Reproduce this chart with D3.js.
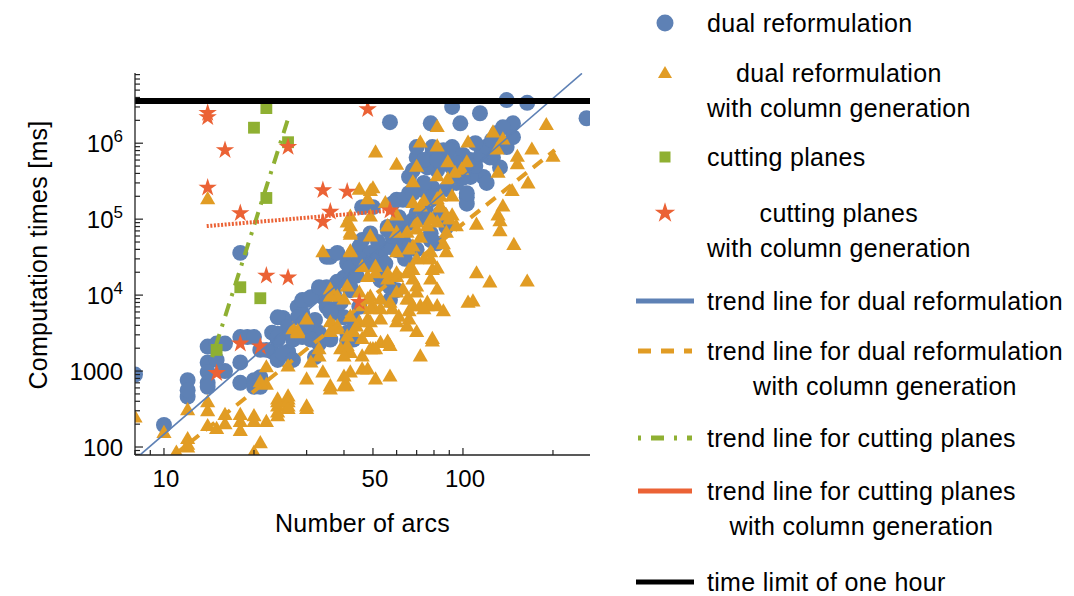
<!DOCTYPE html>
<html>
<head>
<meta charset="utf-8">
<script src="https://cdn.jsdelivr.net/npm/d3@7"></script>
<style>
body { margin: 0; background: #fff; }
text { font-family: "Liberation Sans", Arial, sans-serif; fill: #000; }
</style>
</head>
<body>
<script>
// [number of arcs, computation time in ms]
var dualRef = [[8,900],[10,195],[12,760],[12,460],[12,560],
  [14,2100],[14,1300],[14,970],[14,700],[14,620],
  [15,2300],[16,2300],[16,1000],[15,1400],
  [18,2800],[18,1300],[18,700],[18,36000],
  [19,2800],[20,2800],[20,760],[21,1900],[21,830],
  [23,1800],[24,3100],[26,3200],[26,1800],[25,5000],[28,7000],[29,5800],
  [28,5100],[30,8600],[33,11600],[35,12700],[34,9400],[37,10600],[31,3800],[33,3200],[23,3200],[24,2600],[27,2600],[22,1900],[24,1400],[26,1700],[20,620],[21,620],
  [35,32000],
  [24,5100],[26,3800],[29,8600],[31,9400],[33,12700],[36,32000],[41,26000],[40,17000],[42,12700],[38,5800],[43,4700],[46,53000],[49,65000],[53,36000],[53,21000],[57,12700],[56,72000],[66,89000],[78,65000],[82,48000],[24,2800],[29,2800],[32,4700],
  [60,180000],[66,220000],[70,650000],[79,740000],[82,440000],[70,890000],[78,1830000],[57,1890000],
  [98,1830000],[114,2480000],[140,3700000],[130,1360000],[140,890000],[126,650000],[147,1830000],[259,2130000],[79,890000],[84,740000],[92,890000],[76,480000],[84,550000],[92,480000],[106,600000],[106,400000],[117,360000],[120,300000],[103,195000],[103,160000],[79,260000],[74,240000],[78,180000],[84,120000],[74,106000],[88,79000],[133,480000],
  [164,3400000],[92,3000000],[136,1620000],[147,1200000],[86,810000],[78,650000],[74,600000],[82,600000],[90,810000],[68,440000],[66,360000],[100,480000],[106,360000],[123,650000],[130,890000],[103,220000],[63,180000],[58,160000],[50,144000],[46,144000],[68,220000],[74,300000],[61,106000],[68,97000],[63,53000],[56,79000],[66,43000],[45,43000],[60,39000],[38,36000],
  [25,1700],[27,1400],[31,2600],[33,2300],[32,1530],[41,2500],
  [42,23000],[49,36000],[57,43000],[78,53000],[42,11600],[45,7000],[40,5100],[41,3200],[43,2600],[53,15700],[60,11600],[57,8600],[36,2600],
  [45,30000],[50,28000],[55,26000],[52,50000],[58,60000],[62,75000],[70,120000],[75,140000],[80,200000],[88,250000],[95,300000],[100,350000],[110,500000],[115,700000],[120,900000],[125,1100000],[100,700000],[95,550000],[110,1000000],[38,15000],[44,18000],[48,25000],[35,7000],[39,8000],[30,4000],[36,6000],[64,30000],[70,40000]];

var dualRefCG = [[8,240],[10,150],[12,300],[11,83],[12,97],[14,380],[14,290],[14,185],[15,170],[16,260],[16,195],[18,260],[18,210],[18,160],[20,250],[20,210],[22,210],[21,110],[22,1100],[22,650],[24,415],[24,335],[26,415],[26,335],[24,280],[26,1130],[28,3100],
  [12,125],[20,83],[26,455],[30,760],[30,335],[21,700],[30,4700],[34,36000],[33,1530],[34,940],[36,620],[38,3800],[38,9400],[27,3500],[28,3300],
  [24,380],[26,380],[24,250],[26,310],[30,310],[31,1270],[36,560],[41,620],[40,830],[42,940],[41,1900],[46,1530],[48,1030],[51,760],[57,830],[56,2300],[50,1900],[72,1530],[79,2400],
  [148,45000],[111,19000],[123,14400],[164,14800],[104,7800],[108,8100],[86,6000],[79,2600],[88,36000],[82,22000],[78,15700],[82,11600],[76,7000],[72,7000],[66,8600],[66,6000],[61,5100],[65,3800],[60,4300],[57,2100],[53,2300],[49,1900],[51,1900],[46,1030],[40,620],[48,3200],[46,2600],[42,1700],[39,1900],[56,2400],[65,19000],[60,19000],[56,15700],[51,19000],[48,17000],[48,8600],[50,7000],[53,6400],[57,7800],[60,10600],[70,12700],[74,29000],[78,29000],[68,21000],[42,36000],[41,2800],[45,4300],[49,4300],[40,8600],[42,5100],[37,3800],
  [42,37000],[41,89000],[42,65000],[49,58000],[56,79000],[60,65000],[70,72000],[76,79000],[82,89000],[60,36000],[66,39000],[70,29000],[46,23000],[51,23000],[56,19000],[60,17000],[66,21000],[68,15700],[79,21000],[41,12700],[36,11600],[36,9400],[45,10600],[49,9400],[53,8600],[63,11600],[65,8600],[70,10600],[68,7000],[76,7800],[82,7000],[28,3200],[36,4300],[36,3200],[38,3500],[46,7000],[49,6400],[48,4700],[44,3800],[43,3200],[49,3200],[53,4700],[58,6400],[66,4700],[70,3200],[74,6400],[41,2100],[33,1900],[40,1530],
  [51,740000],[60,510000],[70,480000],[72,1000000],[82,1600000],[82,890000],[68,300000],[82,360000],[45,240000],[49,230000],[48,180000],[55,160000],[42,106000],[49,106000],[42,79000],[56,79000],[70,89000],[79,97000],[72,144000],[82,180000],
  [190,1700000],[126,1360000],[136,1100000],[104,1000000],[130,810000],[170,810000],[152,650000],[152,520000],[200,650000],[89,550000],[103,550000],[99,440000],[131,400000],[94,400000],[165,290000],[146,230000],[89,330000],[84,195000],[92,195000],[84,144000],[136,144000],[131,110000],[133,92000],[92,110000],[78,97000],[111,83000],[95,79000],[74,170000],
  [14,180000],[133,68000],[50,250000],[60,110000],[68,160000],[88,110000],[90,97000],[84,140000],[68,43000],[88,65000],[86,46000],[78,36000],[65,65000],[72,56000],[42,61000],[12,105]];

var cutPlanes = [[22,2900000],[20,1600000],[26,1030000],[22,190000],[18,12700],[21,9100],[15,1900]];

var cutPlanesCG = [[14,2500000],[14,2200000],[16,810000],[26,890000],[14,260000],[18,120000],[34,240000],[36,125000],[34,92000],[48,2800000],[41,230000],[57,130000],[22,18000],[26,17000],[15,940],[18,2300],[21,2100],[45,8100]];

// trend lines, read as two end points each
var trendDual = [[8.3,78],[250,8300000]];
var trendDualCG = [[10.8,78],[203,810000]];
var trendCut = [[14.5,1530],[26.2,2300000]];
var trendCutCG = [[13.9,81000],[59.3,131000]];
var timeLimit = 3600000;

var xTickLabels = [10, 50, 100];
var yTickLabels = [[100, "100", ""], [1000, "1000", ""], [1e4, "10", "4"], [1e5, "10", "5"], [1e6, "10", "6"]];

var legendLabels = [["dual reformulation"], ["dual reformulation", "with column generation"], ["cutting planes"], ["cutting planes", "with column generation"], ["trend line for dual reformulation"], ["trend line for dual reformulation", "with column generation"], ["trend line for cutting planes"], ["trend line for cutting planes", "with column generation"], ["time limit of one hour"]];

var blue = "#5E81B5", orange = "#E19C24", green = "#8FB032", red = "#EB6235";

var margin = { top: 73, right: 484, bottom: 141, left: 135 },
    width = 1074 - margin.left - margin.right,
    height = 596 - margin.top - margin.bottom;

var root = d3.select('body').append('svg')
    .attr('width', 1074)
    .attr('height', 596);
var svg = root.append('g')
    .attr('transform', 'translate(' + margin.left + ',' + margin.top + ')');

var x = d3.scaleLog().domain([8, 266]).range([0, width]);
var y = d3.scaleLog().domain([78.5, 8.4e6]).range([height, 0]);

svg.append('clipPath').attr('id', 'plotclip')
  .append('rect').attr('x', 0).attr('y', 0).attr('width', width).attr('height', height);

var plot = svg.append('g').attr('clip-path', 'url(#plotclip)');

function drawPoints(data, symbolType, size, color) {
  var sym = d3.symbol().type(symbolType).size(size);
  plot.append('g').selectAll('path').data(data).enter().append('path')
    .attr('d', sym)
    .attr('transform', function(d){ return 'translate(' + x(d[0]) + ',' + y(d[1]) + ')'; })
    .attr('fill', color);
}
drawPoints(dualRef, d3.symbolCircle, 200, blue);
drawPoints(dualRefCG, d3.symbolTriangle, 100, orange);
drawPoints(cutPlanes, d3.symbolSquare, 140, green);
drawPoints(cutPlanesCG, d3.symbolStar, 105, red);

var line = d3.line().x(function(d){ return x(d[0]); }).y(function(d){ return y(d[1]); });
plot.append('path').attr('d', line(trendDual)).attr('stroke', blue).attr('stroke-width', 1.6).attr('fill', 'none');
plot.append('path').attr('d', line(trendDualCG)).attr('stroke', orange).attr('stroke-width', 4)
  .attr('stroke-dasharray', '12,8').attr('fill', 'none');
plot.append('path').attr('d', line(trendCut)).attr('stroke', green).attr('stroke-width', 4)
  .attr('stroke-dasharray', '3,8,13,8').attr('fill', 'none');
plot.append('path').attr('d', line(trendCutCG)).attr('stroke', red).attr('stroke-width', 4)
  .attr('stroke-dasharray', '2,1.6').attr('fill', 'none');
plot.append('path').attr('d', line([[8, timeLimit], [266, timeLimit]]))
  .attr('stroke', '#000').attr('stroke-width', 6).attr('fill', 'none');

// axes, ticks pointing inwards
var axisColor = '#222';
svg.append('line').attr('x1', 0).attr('x2', 0).attr('y1', 0).attr('y2', height)
  .attr('stroke', axisColor).attr('stroke-width', 1.3);
svg.append('line').attr('x1', 0).attr('x2', width).attr('y1', height).attr('y2', height)
  .attr('stroke', axisColor).attr('stroke-width', 1.3);

var majorY = yTickLabels.map(function(d){ return d[0]; });
y.ticks().forEach(function(t){
  var big = majorY.indexOf(t) >= 0;
  svg.append('line').attr('x1', 0).attr('x2', big ? 8 : 5)
    .attr('y1', y(t)).attr('y2', y(t)).attr('stroke', axisColor).attr('stroke-width', 1.2);
});
x.ticks().forEach(function(t){
  var big = xTickLabels.indexOf(t) >= 0;
  svg.append('line').attr('y1', height).attr('y2', height - (big ? 7 : 5))
    .attr('x1', x(t)).attr('x2', x(t)).attr('stroke', axisColor).attr('stroke-width', 1.2);
});

yTickLabels.forEach(function(d){
  var t = svg.append('text').attr('x', -12).attr('y', y(d[0]) + 8.5)
    .attr('text-anchor', 'end').style('font-size', '24px');
  t.append('tspan').text(d[1]);
  if (d[2]) {
    t.append('tspan').attr('dy', -10).style('font-size', '17px').text(d[2]);
  }
});
xTickLabels.forEach(function(d){
  svg.append('text').attr('x', x(d) + 2).attr('y', 487 - margin.top)
    .attr('text-anchor', 'middle').style('font-size', '24px').text(d);
});

svg.append('text').attr('text-anchor', 'middle')
  .attr('x', width / 2).attr('y', 532 - margin.top)
  .style('font-size', '25px').style('letter-spacing', '0.3px')
  .text('Number of arcs');
svg.append('text').attr('text-anchor', 'middle')
  .attr('transform', 'translate(' + (47 - margin.left) + ',' + (height / 2 - 9) + ')rotate(-90)')
  .style('font-size', '25px').style('letter-spacing', '0.3px')
  .text('Computation times [ms]');

// legend
var legend = root.append('g');
var rowY = [23, 73, 157, 213, 301, 351, 438, 491, 582];
var textX = 707;
legendLabels.forEach(function(lines, i){
  var sy = rowY[i];
  if (i === 0) legend.append('circle').attr('cx', 665).attr('cy', sy).attr('r', 8.5).attr('fill', blue);
  if (i === 1) legend.append('path').attr('d', d3.symbol().type(d3.symbolTriangle).size(85))
    .attr('transform', 'translate(665,' + (sy + 1) + ')').attr('fill', orange);
  if (i === 2) legend.append('rect').attr('x', 659.5).attr('y', sy - 5.5).attr('width', 11).attr('height', 11).attr('fill', green);
  if (i === 3) legend.append('path').attr('d', d3.symbol().type(d3.symbolStar).size(130))
    .attr('transform', 'translate(665,' + sy + ')').attr('fill', red);
  if (i >= 4) {
    var colors = { 4: blue, 5: orange, 6: green, 7: red, 8: '#000' };
    var l = legend.append('line').attr('x1', i === 4 || i === 8 ? 636 : 638).attr('x2', i === 4 || i === 8 ? 694 : 692)
      .attr('y1', sy).attr('y2', sy).attr('stroke', colors[i]).attr('stroke-width', 5);
    if (i === 5) l.attr('stroke-dasharray', '13,10');
    if (i === 6) l.attr('stroke-dasharray', '3,10,13,10');
  }
  var texts = lines.map(function(s, k){
    return legend.append('text').attr('x', textX).attr('y', sy + 9 + k * 35)
      .style('font-size', '25px').style('letter-spacing', '0.3px').text(s);
  });
  var widths = texts.map(function(t){ return t.node().getComputedTextLength(); });
  var w = d3.max(widths);
  texts.forEach(function(t, k){ t.attr('x', textX + (w - widths[k]) / 2); });
});
</script>
</body>
</html>
